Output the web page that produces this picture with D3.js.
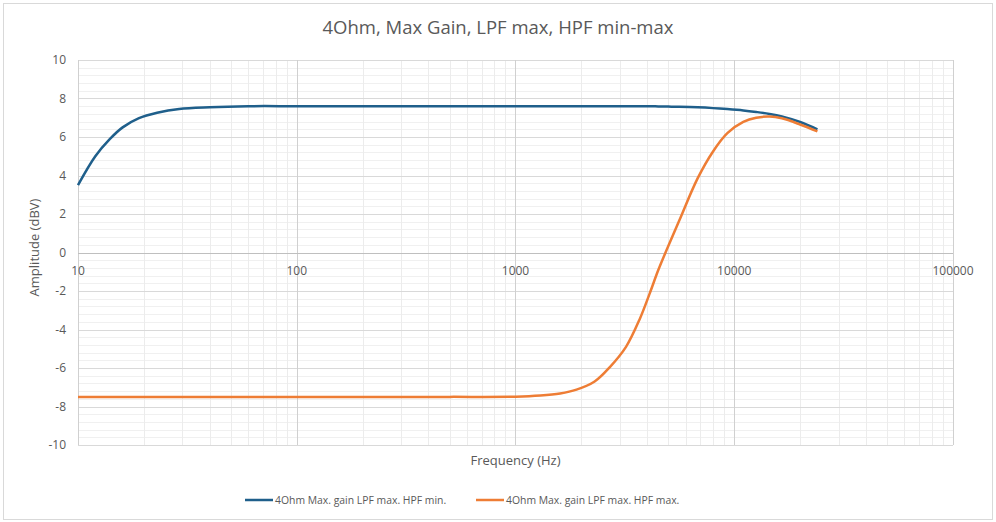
<!DOCTYPE html>
<html>
<head>
<meta charset="utf-8">
<script src="https://cdn.jsdelivr.net/npm/d3@7"></script>
<style>
  body { margin: 0; background: #fff; }
  svg text { font-family: "Open Sans", "Lato", sans-serif; fill: #595959; }
</style>
</head>
<body>
<div id="graph"></div>
<script>
// sweep frequencies (Hz)
var freqs = [10, 12, 14, 16, 19, 23, 29, 40, 60, 100, 200, 500, 1000, 1300, 1600, 1900, 2300, 2700, 3200, 3700, 4100, 4500, 5000, 5600, 6800, 8000, 9300, 11000, 12600, 14500, 16500, 20000, 24000];

// amplitude (dBV) for HPF min
var hpfMin = [3.5, 5.0, 5.9, 6.5, 6.98, 7.26, 7.46, 7.55, 7.6, 7.6, 7.6, 7.6, 7.6, 7.6, 7.6, 7.6, 7.6, 7.6, 7.6, 7.6, 7.6, 7.59, 7.58, 7.57, 7.54, 7.5, 7.45, 7.38, 7.3, 7.2, 7.07, 6.78, 6.4];

// amplitude (dBV) for HPF max
var hpfMax = [-7.5, -7.5, -7.5, -7.5, -7.5, -7.5, -7.5, -7.5, -7.5, -7.5, -7.5, -7.5, -7.49, -7.43, -7.32, -7.12, -6.7, -5.95, -4.9, -3.45, -2.15, -0.9, 0.35, 1.65, 3.85, 5.25, 6.2, 6.78, 7.0, 7.06, 6.97, 6.65, 6.29];

var seriesNames = ["4Ohm Max. gain LPF max. HPF min.", "4Ohm Max. gain LPF max. HPF max."];
var seriesColors = ["#1f5f8b", "#ee7d35"];
var xTicks = [10, 100, 1000, 10000, 100000];
var yTicks = [-10, -8, -6, -4, -2, 0, 2, 4, 6, 8, 10];

var W = 996, H = 522;
var margin = { top: 60, right: 43, bottom: 77, left: 78 };
var width = W - margin.left - margin.right;
var height = H - margin.top - margin.bottom;

var xScale = d3.scaleLog().domain([10, 100000]).range([0, width]);
var yScale = d3.scaleLinear().domain([-10, 10]).range([height, 0]);

var svg = d3.select("#graph").append("svg")
  .attr("width", W)
  .attr("height", H);

// chart frame
svg.append("rect")
  .attr("x", 3.5).attr("y", 3.5)
  .attr("width", W - 7).attr("height", H - 6)
  .attr("fill", "#fff")
  .attr("stroke", "#d9d9d9");

svg.append("text")
  .attr("x", W / 2)
  .attr("y", 34)
  .style("text-anchor", "middle")
  .style("font-size", "18.5px")
  .text("4Ohm, Max Gain, LPF max, HPF min-max");

var g = svg.append("g")
  .attr("transform", "translate(" + margin.left + "," + margin.top + ")");

// minor grid: y every 0.4
var yMinor = d3.range(-10, 10.001, 0.4);
g.selectAll(".yminor").data(yMinor).enter().append("line")
  .attr("x1", 0).attr("x2", width)
  .attr("y1", function (d) { return Math.round(yScale(d)) + 0.5; })
  .attr("y2", function (d) { return Math.round(yScale(d)) + 0.5; })
  .attr("stroke", "#f0f0f0");

// minor grid: x 2..9 per decade
var xMinor = [];
[10, 100, 1000, 10000].forEach(function (dec) {
  for (var k = 2; k <= 9; k++) xMinor.push(dec * k);
});
g.selectAll(".xminor").data(xMinor).enter().append("line")
  .attr("y1", 0).attr("y2", height)
  .attr("x1", function (d) { return Math.round(xScale(d)) + 0.5; })
  .attr("x2", function (d) { return Math.round(xScale(d)) + 0.5; })
  .attr("stroke", "#ececec");

// major grid
g.selectAll(".ymajor").data(yTicks).enter().append("line")
  .attr("x1", 0).attr("x2", width)
  .attr("y1", function (d) { return Math.round(yScale(d)) + 0.5; })
  .attr("y2", function (d) { return Math.round(yScale(d)) + 0.5; })
  .attr("stroke", "#d9d9d9");
g.selectAll(".xmajor").data(xTicks).enter().append("line")
  .attr("y1", 0).attr("y2", height)
  .attr("x1", function (d) { return Math.round(xScale(d)) + 0.5; })
  .attr("x2", function (d) { return Math.round(xScale(d)) + 0.5; })
  .attr("stroke", "#d0d0d0");

// zero line
g.append("line")
  .attr("x1", 0).attr("x2", width)
  .attr("y1", Math.round(yScale(0)) + 0.5).attr("y2", Math.round(yScale(0)) + 0.5)
  .attr("stroke", "#bfbfbf");

// y axis labels
g.selectAll(".ylab").data(yTicks).enter().append("text")
  .attr("x", -12)
  .attr("y", function (d) { return yScale(d); })
  .attr("dy", "0.35em")
  .style("text-anchor", "end")
  .style("font-size", "12px")
  .text(function (d) { return d; });

// x axis labels (sit under the zero line)
g.selectAll(".xlab").data(xTicks).enter().append("text")
  .attr("x", function (d) { return xScale(d); })
  .attr("y", yScale(0) + 22)
  .style("text-anchor", "middle")
  .style("font-size", "12px")
  .text(function (d) { return d; });

// axis titles
svg.append("text")
  .attr("x", margin.left + width / 2)
  .attr("y", 465)
  .style("text-anchor", "middle")
  .style("font-size", "13px")
  .text("Frequency (Hz)");

svg.append("text")
  .attr("transform", "translate(39," + (margin.top + height / 2 - 5) + "),rotate(-90)")
  .style("text-anchor", "middle")
  .style("font-size", "13px")
  .text("Amplitude (dBV)");

// curves (smoothed like the spreadsheet)
var line = d3.line()
  .x(function (d) { return xScale(d[0]); })
  .y(function (d) { return yScale(d[1]); })
  .curve(d3.curveCatmullRom.alpha(0.5));

[hpfMin, hpfMax].forEach(function (vals, i) {
  g.append("path")
    .datum(freqs.map(function (f, j) { return [f, vals[j]]; }))
    .attr("fill", "none")
    .attr("stroke", seriesColors[i])
    .attr("stroke-width", 2.5)
    .attr("d", line);
});

// legend
var legendX = [245, 476];
seriesNames.forEach(function (name, i) {
  var lg = svg.append("g").attr("transform", "translate(" + legendX[i] + ",500)");
  lg.append("line")
    .attr("x1", 0).attr("x2", 28)
    .attr("stroke", seriesColors[i])
    .attr("stroke-width", 2.5);
  lg.append("text")
    .attr("x", 30)
    .attr("dy", "0.35em")
    .style("font-size", "10.4px")
    .text(name);
});
</script>
</body>
</html>
